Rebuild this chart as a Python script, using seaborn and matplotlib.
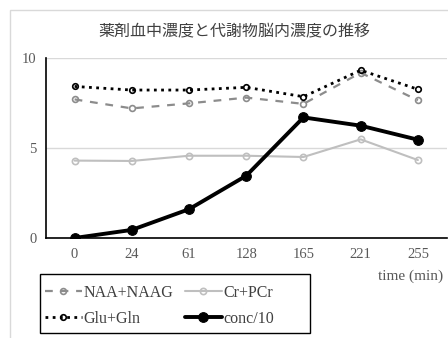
import matplotlib
matplotlib.use("Agg")
import matplotlib.pyplot as plt
import matplotlib.patches as mpatches
import seaborn as sns
import pandas as pd

sns.set_theme(style="white")
plt.rcParams["font.family"] = ["Liberation Serif", "Noto Sans CJK JP"]

times = ["0", "24", "61", "128", "165", "221", "255"]
naa_naag = [7.7, 7.2, 7.48, 7.8, 7.45, 9.18, 7.65]
cr_pcr = [4.3, 4.28, 4.57, 4.57, 4.5, 5.48, 4.33]
glu_gln = [8.42, 8.22, 8.22, 8.37, 7.85, 9.32, 8.26]
conc10 = [0.0, 0.45, 1.6, 3.46, 6.7, 6.24, 5.46]

df = pd.DataFrame({"time": times, "NAA+NAAG": naa_naag, "Cr+PCr": cr_pcr,
                   "Glu+Gln": glu_gln, "conc/10": conc10})

fig = plt.figure(figsize=(4.48, 3.38), dpi=100)
ax = fig.add_axes([46 / 448, 1 - 238 / 338, 400.5 / 448, 180 / 338])

styles = {
    "NAA+NAAG": dict(color="#8c8c8c", linestyle=(0, (3.5, 3.5)), linewidth=1.6,
                     marker="o", markersize=4.2, markerfacecolor="none",
                     markeredgecolor="#8c8c8c", markeredgewidth=1.2),
    "Cr+PCr": dict(color="#bfbfbf", linestyle="-", linewidth=1.5,
                   marker="o", markersize=4.5, markerfacecolor="none",
                   markeredgecolor="#bfbfbf", markeredgewidth=1.2),
    "Glu+Gln": dict(color="black", linestyle=(0, (1, 1.6)), linewidth=2.0,
                    marker="o", markersize=4.0, markerfacecolor="none",
                    markeredgecolor="black", markeredgewidth=1.2),
    "conc/10": dict(color="black", linestyle="-", linewidth=2.8,
                    marker="o", markersize=7, markerfacecolor="black",
                    markeredgecolor="black"),
}

for name in ["NAA+NAAG", "Cr+PCr", "Glu+Gln", "conc/10"]:
    sns.lineplot(data=df, x="time", y=name, ax=ax, sort=False, label=name,
                 **styles[name])

ax.set_xlim(-0.5, 6.5)
ax.set_ylim(0, 10)
ax.set_yticks([0, 5, 10])
ax.set_xlabel("")
ax.set_ylabel("")
ax.yaxis.grid(True, color="#d9d9d9", linewidth=1)
ax.set_axisbelow(True)
for s in ["top", "right"]:
    ax.spines[s].set_visible(False)
ax.spines["left"].set_color("black")
ax.spines["bottom"].set_color("black")
ax.spines["left"].set_linewidth(1.2)
ax.spines["bottom"].set_linewidth(1.2)
ax.tick_params(axis="both", length=0, labelsize=10.5, labelcolor="#595959")
ax.tick_params(axis="x", pad=7)
ax.tick_params(axis="y", pad=7)
ax.get_legend().remove()

fig.text(234 / 448, 1 - 31 / 338, "薬剤血中濃度と代謝物脳内濃度の推移",
         ha="center", va="center", fontsize=11.5, color="#404040",
         family=["Noto Sans CJK JP", "DejaVu Sans"])
fig.text(443 / 448, 1 - 276 / 338, "time (min)", ha="right", va="center",
         fontsize=11, color="#595959")

handles, labels = ax.get_legend_handles_labels()
order = [0, 2, 1, 3]
leg = fig.legend([handles[i] for i in order], [labels[i] for i in order],
                 loc="upper left", bbox_to_anchor=(45 / 448, 1 - 285 / 338),
                 ncol=2, frameon=False, fontsize=11.5,
                 handlelength=2.3, handletextpad=0.1, columnspacing=0.75,
                 borderpad=0.0, labelspacing=0.6, borderaxespad=0)
for t in leg.get_texts():
    t.set_color("#404040")

# legend box
fig.patches.append(mpatches.Rectangle((40 / 448, 1 - 333 / 338), 270 / 448, 59 / 338,
                                      transform=fig.transFigure, fill=False,
                                      edgecolor="black", linewidth=1.0))
# chart area border
fig.patches.append(mpatches.Rectangle((10 / 448, -0.1), 1.0, 1 - 10 / 338 + 0.1,
                                      transform=fig.transFigure, fill=False,
                                      edgecolor="#d9d9d9", linewidth=1.0))

fig.savefig("out.png", dpi=100)
